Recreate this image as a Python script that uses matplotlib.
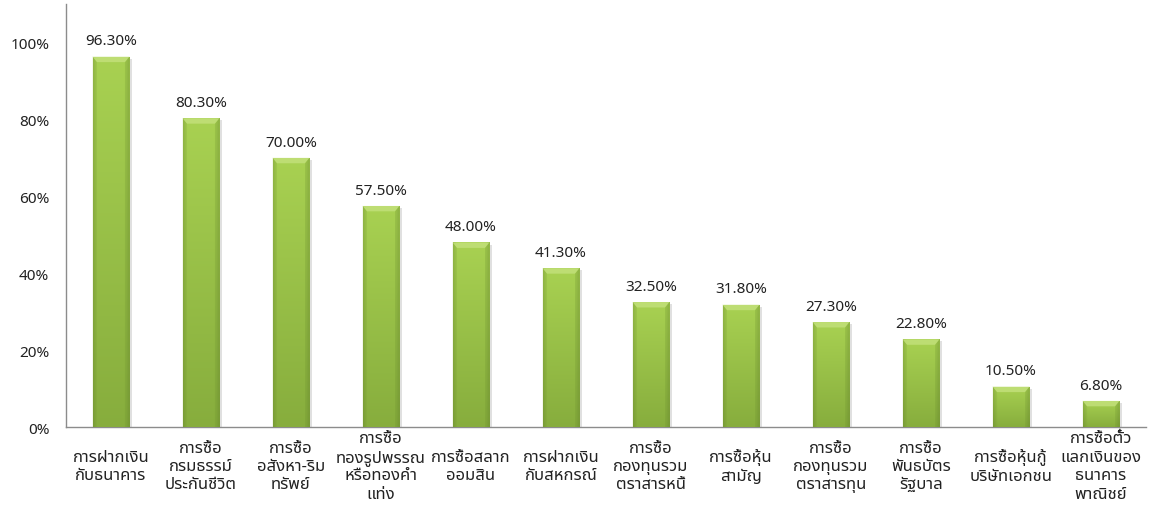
import matplotlib
matplotlib.use("Agg")
import matplotlib.pyplot as plt
import matplotlib.patheffects as pe
from matplotlib import font_manager
from matplotlib.ft2font import FT2Font
from matplotlib.patches import Polygon
import numpy as np

# ข้อมูลสัดส่วนการออม/ลงทุนแต่ละประเภท (%)
categories = [
    "การฝากเงิน\nกับธนาคาร",
    "การซื้อ\nกรมธรรม์\nประกันชีวิต",
    "การซื้อ\nอสังหา-ริม\nทรัพย์",
    "การซื้อ\nทองรูปพรรณ\nหรือทองคำ\nแท่ง",
    "การซื้อสลาก\nออมสิน",
    "การฝากเงิน\nกับสหกรณ์",
    "การซื้อ\nกองทุนรวม\nตราสารหนี้",
    "การซื้อหุ้น\nสามัญ",
    "การซื้อ\nกองทุนรวม\nตราสารทุน",
    "การซื้อ\nพันธบัตร\nรัฐบาล",
    "การซื้อหุ้นกู้\nบริษัทเอกชน",
    "การซื้อตั๋ว\nแลกเงินของ\nธนาคาร\nพาณิชย์",
]
values = [96.3, 80.3, 70.0, 57.5, 48.0, 41.3, 32.5, 31.8, 27.3, 22.8, 10.5, 6.8]
yticks = [0, 20, 40, 60, 80, 100]


# หาฟอนต์ที่มีอักษรไทย
def find_thai_font():
    preferred = ["Tahoma", "Noto Sans Thai", "Noto Sans Thai UI", "Loma", "Garuda",
                 "Norasi", "Sarabun", "TH Sarabun New", "Waree", "Umpush", "Kinnari"]
    found = {}
    for f in font_manager.fontManager.ttflist:
        try:
            cmap = FT2Font(f.fname).get_charmap()
        except Exception:
            continue
        if 0x0E01 in cmap and 0x0E49 in cmap:
            found.setdefault(f.name, f.fname)
    for name in preferred:
        if name in found:
            return name
    return next(iter(found), None)


thai = find_thai_font()
families = ([thai] if thai else []) + ["DejaVu Sans"]
plt.rcParams["font.family"] = families

text_color = "#222222"
axis_color = "#8c8c8c"

fig = plt.figure(figsize=(11.51, 5.06), dpi=100)
ax = fig.add_axes([0.0573, 0.154, 0.9384, 0.836])

x = np.arange(len(values))
bars = ax.bar(x, values, width=0.41, color="#98c143", edgecolor="none", zorder=2,
              path_effects=[pe.SimplePatchShadow(offset=(2, -1.5), shadow_rgbFace="#000000", alpha=0.12),
                            pe.Normal()])

ax.set_xlim(-0.5, len(values) - 0.5)
ax.set_ylim(0, 110)

# ไล่เฉดสีแท่ง: บนสว่าง ล่างเข้มขึ้น ขอบซ้าย-ขวาเข้มเล็กน้อย
top_rgb = np.array([0.66, 0.82, 0.32])
bot_rgb = np.array([0.53, 0.68, 0.24])
ny, nx = 64, 32
t = np.linspace(0, 1, ny)[:, None, None]
grad = top_rgb * (1 - t) + bot_rgb * t
u = np.linspace(-1, 1, nx)[None, :, None]
edge = 1 - 0.10 * np.clip((np.abs(u) - 0.80) / 0.20, 0, 1)
img = np.clip(grad * edge, 0, 1)

for rect in bars:
    x0, y0 = rect.get_x(), rect.get_y()
    w, h = rect.get_width(), rect.get_height()
    im = ax.imshow(img, extent=(x0, x0 + w, y0, y0 + h), aspect="auto",
                   interpolation="bilinear", zorder=3)
    im.set_clip_path(rect)
    # ขอบบนแบบนูน
    bw = w * 0.12
    bh = min(1.4, h * 0.3)
    top = y0 + h
    ax.add_patch(Polygon([(x0, top), (x0 + w, top), (x0 + w - bw, top - bh), (x0 + bw, top - bh)],
                         closed=True, facecolor="#c2e07a", edgecolor="none", alpha=0.85, zorder=4))
    ax.add_patch(Polygon([(x0, top), (x0 + bw, top - bh), (x0 + bw, y0), (x0, y0)],
                         closed=True, facecolor="#7fa535", edgecolor="none", alpha=0.2, zorder=4))
    ax.add_patch(Polygon([(x0 + w, top), (x0 + w - bw, top - bh), (x0 + w - bw, y0), (x0 + w, y0)],
                         closed=True, facecolor="#6f9430", edgecolor="none", alpha=0.25, zorder=4))

ax.bar_label(bars, labels=[f"{v:.2f}%" for v in values], padding=6,
             fontsize=11, color=text_color, zorder=5)

ax.set_yticks(yticks)
ax.set_yticklabels([f"{v}%" for v in yticks], fontsize=11, color=text_color)
ax.set_xticks(x)
ax.set_xticklabels(categories, fontsize=12, color=text_color, va="center",
                   multialignment="center", linespacing=1.2)
ax.tick_params(axis="x", length=0, pad=28)
ax.tick_params(axis="y", length=0, pad=12)

for side in ["top", "right"]:
    ax.spines[side].set_visible(False)
for side in ["left", "bottom"]:
    ax.spines[side].set_color(axis_color)
    ax.spines[side].set_linewidth(1.0)

fig.savefig("out.png", dpi=100)
